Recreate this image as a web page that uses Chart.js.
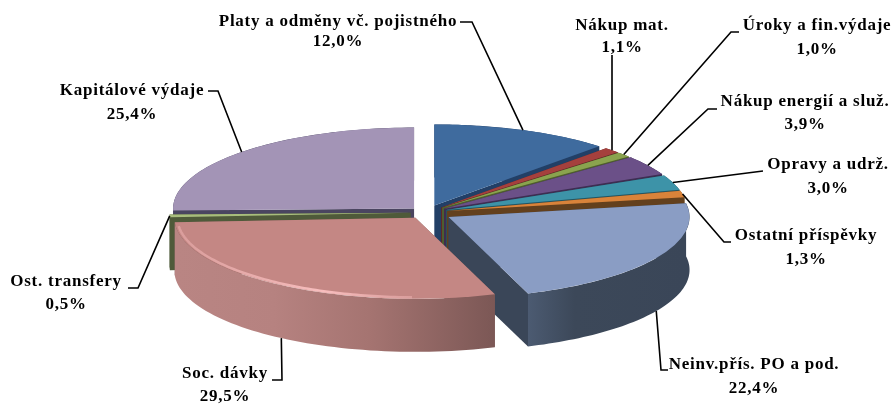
<!DOCTYPE html>
<html><head><meta charset="utf-8">
<script src="https://cdn.jsdelivr.net/npm/chart.js@4/dist/chart.umd.min.js"></script>
<style>html,body{margin:0;background:#fff}canvas{display:block}</style>
</head><body><canvas id="c" width="894" height="405"></canvas>
<script>
const categories = ["Platy a odměny vč. pojistného","Nákup mat.","Úroky a fin.výdaje","Nákup energií a služ.","Opravy a udrž.","Ostatní příspěvky","Neinv.přís. PO a pod.","Soc. dávky","Ost. transfery","Kapitálové výdaje"];
const shares = [12.0,1.1,1.0,3.9,3.0,1.3,22.4,29.5,0.5,25.4];

// styling
const topColors  = ["#3f6b9e","#a5403d","#8aa34e","#6b5088","#3d93a8","#d9833a","#8a9dc4","#c48784","#a8bd7c","#a394b6"];
const wallColors = ["#223f66","#5f2826","#4f5e2e","#3d2e52","#245663","#63401d","#3a4658","#7d5a57","#4f5a3a","#4a4560"];
const explode    = [19,18,18,18,18,18,22,16,13,14];
const drawOrder  = [9,0,1,2,3,4,5,8,6,7];
const labelBoxes = [
  {x:338,y:22,gap:20,path:[[460,22],[472,22]]},
  {x:622,y:26,gap:22,path:[[612,55]]},
  {x:817,y:26,gap:24,path:[[731,32],[739,32]].reverse()},
  {x:805,y:102,gap:23,path:[[717,109],[708,109]]},
  {x:828,y:165,gap:24,path:[[763,171]]},
  {x:806,y:236,gap:24,path:[[731,242],[724,242]]},
  {x:754,y:365,gap:24,path:[[668,370],[661,370]]},
  {x:225,y:374,gap:23,path:[[272,380],[282,380]]},
  {x:66,y:282,gap:23,path:[[128,288],[138,288]]},
  {x:132,y:91,gap:24,path:[[208,91],[218,91]]}
];
const CX=426, CY=212.5, RX=241, RY=81, DEPTH=53;

const pie3d = {
  id:'pie3d',
  beforeDatasetDraw(chart){
    const ctx=chart.ctx, arcs=chart.getDatasetMeta(0).data;
    drawOrder.forEach(i=>{
      const a=arcs[i], R=a.outerRadius, sx=RX/R, sy=RY/R;
      const mid=(a.startAngle+a.endAngle)/2;
      const ox=CX+Math.cos(mid)*explode[i]*sx, oy=CY+Math.sin(mid)*explode[i]*sy;
      const pt=t=>[ox+RX*Math.cos(t), oy+RY*Math.sin(t)];
      const wall=wallColors[i];
      [a.startAngle,a.endAngle].forEach(t=>{
        const p=pt(t);
        ctx.fillStyle=wall;
        ctx.beginPath();ctx.moveTo(ox,oy);ctx.lineTo(p[0],p[1]);ctx.lineTo(p[0],p[1]+DEPTH);ctx.lineTo(ox,oy+DEPTH);ctx.closePath();ctx.fill();
      });
      const N=60, rim=[];
      for(let k=0;k<=N;k++) rim.push(pt(a.startAngle+(a.endAngle-a.startAngle)*k/N));
      let fill=wall;
      if(i===7){
        const g=ctx.createLinearGradient(178,0,497,0);
        g.addColorStop(0,"#b98583");g.addColorStop(.3,"#b68280");g.addColorStop(.6,"#a57471");g.addColorStop(1,"#7b5755");
        fill=g;
      } else if(i===6){
        const g=ctx.createLinearGradient(527,0,686,0);
        g.addColorStop(0,"#4c5b72");g.addColorStop(.3,"#3c4859");g.addColorStop(1,"#3a4658");
        fill=g;
      }
      ctx.fillStyle=fill;
      ctx.beginPath();
      rim.forEach((p,k)=>k?ctx.lineTo(p[0],p[1]):ctx.moveTo(p[0],p[1]));
      rim.slice().reverse().forEach(p=>ctx.lineTo(p[0],p[1]+DEPTH));
      ctx.closePath();ctx.fill();
      ctx.save();
      ctx.translate(ox,oy);ctx.scale(sx,sy);ctx.translate(-a.x,-a.y);
      a.draw(ctx);
      ctx.restore();
      if(i===7){
        const g=ctx.createLinearGradient(180,0,440,0);
        g.addColorStop(0,"rgba(240,180,180,.5)");g.addColorStop(.55,"rgba(248,190,190,1)");g.addColorStop(1,"rgba(240,180,180,.3)");
        ctx.strokeStyle=g;ctx.lineWidth=2.5;
        ctx.beginPath();
        for(let k=0;k<=80;k++){
          const t=a.endAngle-0.05-(a.endAngle-a.startAngle-0.4)*k/80;
          const x=ox+(RX-3)*Math.cos(t), y=oy+(RY-1.5)*Math.sin(t);
          k?ctx.lineTo(x,y):ctx.moveTo(x,y);
        }
        ctx.stroke();
      }
    });
    return false;
  },
  afterDatasetsDraw(chart){
    const ctx=chart.ctx, arcs=chart.getDatasetMeta(0).data;
    ctx.save();
    ctx.textAlign='center';ctx.textBaseline='middle';ctx.fillStyle='#000';
    ctx.font='bold 17px "Liberation Serif"';
    ctx.letterSpacing='0.75px';
    categories.forEach((name,i)=>{
      const a=arcs[i], R=a.outerRadius, sx=RX/R, sy=RY/R, mid=(a.startAngle+a.endAngle)/2;
      const ox=CX+Math.cos(mid)*explode[i]*sx, oy=CY+Math.sin(mid)*explode[i]*sy;
      let end=[ox+RX*Math.cos(mid), oy+RY*Math.sin(mid)];
      if(i===6||i===7) end=[end[0],end[1]+DEPTH];
      const b=labelBoxes[i];
      ctx.strokeStyle='#000';ctx.lineWidth=1.6;
      ctx.beginPath();
      b.path.forEach((p,k)=>k?ctx.lineTo(p[0],p[1]):ctx.moveTo(p[0],p[1]));
      ctx.lineTo(end[0],end[1]);ctx.stroke();
      ctx.fillText(name,b.x,b.y);
      ctx.fillText(shares[i].toFixed(1).replace('.',',')+'%',b.x,b.y+b.gap);
    });
    ctx.restore();
  }
};

new Chart(document.getElementById('c'),{
  type:'pie',
  data:{labels:categories,datasets:[{data:shares,backgroundColor:topColors,borderWidth:0}]},
  options:{responsive:false,animation:false,layout:{padding:0},
    plugins:{legend:{display:false},tooltip:{enabled:false},title:{display:false}}},
  plugins:[pie3d]
});
</script></body></html>
